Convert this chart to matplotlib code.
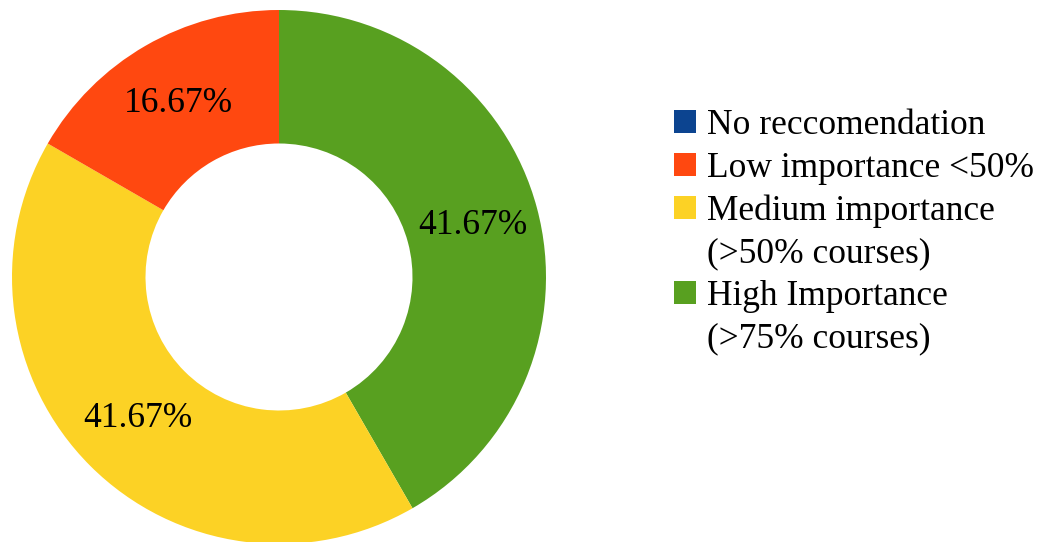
import numpy as np
import matplotlib.pyplot as plt
from matplotlib.patches import Patch

plt.rcParams['font.family'] = ['Liberation Serif', 'DejaVu Serif']

# data (clockwise from 12 o'clock)
categories = ["High Importance", "Medium importance", "Low importance", "No reccomendation"]
shares = [41.67, 41.67, 16.67, 0.0]
colors = ["#58A020", "#FCD225", "#FF4810", "#0C4490"]

legend_labels = ["No reccomendation", "Low importance <50%",
                 "Medium importance", "(>50% courses)",
                 "High Importance", "(>75% courses)"]
legend_colors = ["#0C4490", "#FF4810", "#FCD225", None, "#58A020", None]

W, H = 1040, 542
fig = plt.figure(figsize=(W / 100, H / 100), dpi=100)

cx, cy, r = 279, 277, 267
ax = fig.add_axes([(cx - r) / W, (H - cy - r) / H, 2 * r / W, 2 * r / H])

wedges, _ = ax.pie(shares, colors=colors, startangle=90, counterclock=False,
                   radius=1.0, wedgeprops=dict(width=0.5, edgecolor='none'))

# percentage labels in the middle of the ring
for w, v in zip(wedges, shares):
    if v <= 0:
        continue
    ang = np.deg2rad((w.theta1 + w.theta2) / 2)
    ax.text(0.75 * np.cos(ang), 0.75 * np.sin(ang), f"{v:.2f}%",
            ha='center', va='center', fontsize=25.5, color='black')

ax.set_xlim(-1, 1)
ax.set_ylim(-1, 1)
ax.set_aspect('equal')
ax.axis('off')

handles = [Patch(facecolor=c if c else 'none', edgecolor='none') for c in legend_colors]
fig.legend(handles, legend_labels, loc='upper left',
           bbox_to_anchor=(674 / W, 1 - 109 / H), frameon=False,
           fontsize=25.5, handlelength=0.62, handleheight=0.62,
           handletextpad=0.3, labelspacing=0.27, borderpad=0, borderaxespad=0)

fig.savefig("out.png", dpi=100)
